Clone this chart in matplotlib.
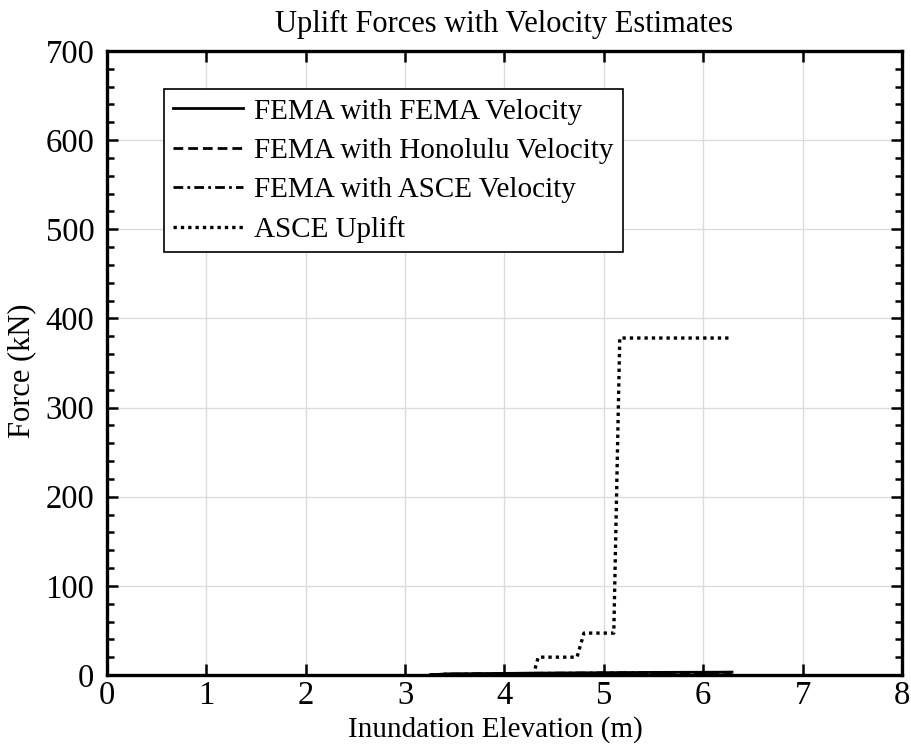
import matplotlib
matplotlib.use('Agg')
import matplotlib.pyplot as plt
from matplotlib.ticker import MultipleLocator

plt.rcParams['font.family'] = ['Liberation Serif', 'DejaVu Serif']

# inundation elevation (m) and forces (kN)
elev = [3.25, 3.4, 3.7, 4.0, 4.3, 4.6, 4.9, 5.2, 5.5, 5.8, 6.1, 6.29]
fema_fema = [0.0, 1.2, 1.5, 1.8, 2.1, 2.3, 2.5, 2.7, 2.9, 3.0, 3.1, 3.2]
fema_honolulu = [0.0, 0.8, 1.0, 1.2, 1.4, 1.6, 1.8, 1.9, 2.0, 2.1, 2.2, 2.3]
fema_asce = [0.0, 1.0, 1.3, 1.6, 1.9, 2.1, 2.3, 2.5, 2.7, 2.8, 2.9, 3.0]

asce_elev = [3.25, 4.29, 4.34, 4.73, 4.80, 5.10, 5.16, 6.29]
asce_uplift = [0, 0, 20, 20, 47, 47, 378, 378]

fig = plt.figure(figsize=(9.12, 7.53), dpi=100)
ax = fig.add_axes([0.1173, 0.1036, 0.8717, 0.8287])

ax.plot(elev, fema_fema, color='black', lw=2.0, linestyle='-', label='FEMA with FEMA Velocity')
ax.plot(elev, fema_honolulu, color='black', lw=2.0, linestyle=(0, (3.5, 1.8)), label='FEMA with Honolulu Velocity')
ax.plot(elev, fema_asce, color='black', lw=2.0, linestyle=(0, (3.5, 1.5, 1, 1.5)), label='FEMA with ASCE Velocity')
ax.plot(asce_elev, asce_uplift, color='black', lw=2.4, linestyle=(0, (1, 1.2)), label='ASCE Uplift')

ax.set_xlim(0, 8)
ax.set_ylim(0, 700)
ax.xaxis.set_major_locator(MultipleLocator(1))
ax.yaxis.set_major_locator(MultipleLocator(100))
ax.yaxis.set_minor_locator(MultipleLocator(20))
ax.grid(True, which='major', color='#dcdcdc', lw=1.0)
ax.set_axisbelow(True)

ax.tick_params(which='both', direction='in', top=True, right=True, width=1.8, labelsize=23.5)
ax.tick_params(axis='y', pad=9)
ax.tick_params(axis='x', pad=4)
ax.tick_params(which='major', length=8)
ax.tick_params(which='minor', length=5)
for s in ax.spines.values():
    s.set_linewidth(2.4)

ax.set_xlabel('Inundation Elevation (m)', fontsize=21)
ax.set_ylabel('Force (kN)', fontsize=22)
ax.xaxis.set_label_coords(0.489, -0.066)
ax.yaxis.set_label_coords(-0.089, 0.487)
ax.set_title('Uplift Forces with Velocity Estimates', fontsize=22, pad=14)

leg = ax.legend(loc='upper left', bbox_to_anchor=(0.0717, 0.939), fontsize=21,
                handlelength=2.4, handletextpad=0.38, labelspacing=0.44,
                borderpad=0.31, borderaxespad=0, fancybox=False, framealpha=1)
leg.get_frame().set_edgecolor('black')
leg.get_frame().set_linewidth(1.2)

fig.savefig('out.png', dpi=100, facecolor='white')
